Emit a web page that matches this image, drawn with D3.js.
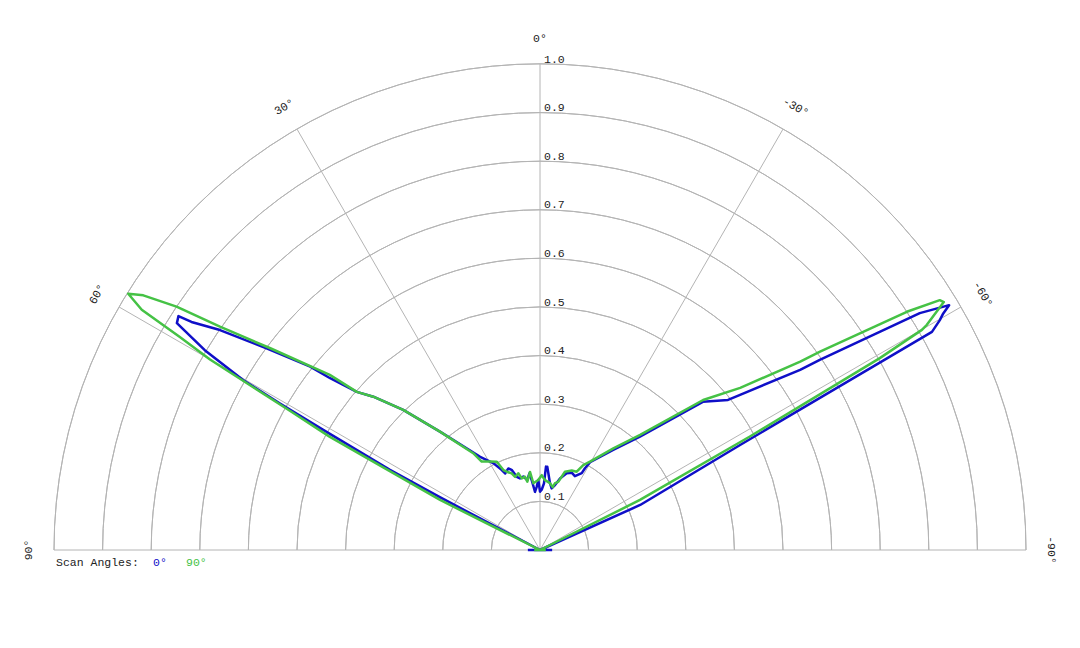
<!DOCTYPE html>
<html>
<head>
<meta charset="utf-8">
<script src="https://cdn.jsdelivr.net/npm/d3@7"></script>
<style>
  body { margin: 0; background: #fff; }
  text { font-family: "Liberation Mono", "DejaVu Sans Mono", monospace; font-size: 11.5px; fill: #222; }
</style>
</head>
<body>
<svg id="chart" width="1080" height="648"></svg>
<script>
// rings / spokes / labels
var ringTicks = [0.1, 0.2, 0.3, 0.4, 0.5, 0.6, 0.7, 0.8, 0.9, 1.0];
var spokeAngles = [-60, -30, 0, 30, 60];
var angleTicks = [90, 60, 30, 0, -30, -60, -90];
var seriesNames = ["0°", "90°"];

// scan angle 0° (blue): angle in degrees (positive = left), normalised level
var blueAngles = [-90, -88, -65.8, -62.3, -60.9, -60.1, -59.6, -59.1, -58.05, -55.8, -55.3, -52.2, -51.4, -47.7,
  -41.4, -36.2, -29.7, -28.8, -28.5, -25.3, -22.3, -19.2, -15.6, -13.0, -10.7, -8.5, -5.0, -4.1, -3.4, -1.6,
  0, 1.4, 3.0, 4.9, 6.8, 7.9, 10.3, 12.8, 15.6, 17.6, 19.5, 21.2, 24.5, 25.6, 28.3, 32.7, 40.2, 44.3, 47.4,
  49.2, 50.7, 51.4, 53.6, 55.5, 56.8, 57.1, 58.0, 59.2, 60.2, 60.6, 61.0, 61.9, 62.2, 88, 90];
var blueRadii = [0.025, 0.0, 0.226, 0.465, 0.923, 0.949, 0.962, 0.981, 0.921, 0.696, 0.651, 0.521, 0.495, 0.453,
  0.311, 0.255, 0.208, 0.192, 0.18, 0.168, 0.172, 0.167, 0.153, 0.137, 0.129, 0.139, 0.172, 0.172, 0.137, 0.124,
  0.12, 0.144, 0.13, 0.12, 0.145, 0.159, 0.146, 0.155, 0.153, 0.158, 0.175, 0.18, 0.173, 0.183, 0.203, 0.228, 0.319, 0.403, 0.466,
  0.498, 0.558, 0.605, 0.699, 0.799, 0.857, 0.886, 0.881, 0.803, 0.704, 0.614, 0.51, 0.35, 0.233, 0.0, 0.025];

// scan angle 90° (green)
var greenAngles = [-90, -88, -63.4, -61.6, -60.55, -60.04, -59.8, -58.45, -58.0, -57.0, -54.7, -54.1, -51.0, -47.4,
  -41.0, -35.8, -29.5, -27.0, -25.1, -21.8, -17.7, -15.0, -12.7, -11.4, -8.5, -4.1, -1.3, 1.4, 5.7, 7.3,
  10.5, 11.6, 14.3, 15.8, 18.8, 20.3, 23.0, 24.6, 26.1, 29.5, 33.4, 34.6, 40.2, 44.3, 47.4, 49.2, 50.2, 53.2,
  55.1, 56.2, 57.3, 58.1, 58.9, 59.4, 60.0, 60.4, 60.9, 61.7, 63.4, 88, 90];
var greenRadii = [0.012, 0.0, 0.23, 0.491, 0.803, 0.907, 0.921, 0.975, 0.97, 0.90, 0.706, 0.661, 0.53, 0.456,
  0.314, 0.258, 0.209, 0.196, 0.178, 0.176, 0.169, 0.145, 0.141, 0.132, 0.139, 0.144, 0.154, 0.144, 0.138, 0.162,
  0.143, 0.154, 0.152, 0.164, 0.159, 0.168, 0.175, 0.181, 0.202, 0.209, 0.218, 0.242, 0.319, 0.403, 0.466, 0.498, 0.563, 0.693,
  0.803, 0.90, 0.970, 0.998, 0.957, 0.861, 0.784, 0.686, 0.59, 0.491, 0.23, 0.0, 0.012];

var colors = ["#0f0fc8", "#45c245"];

var cx = 540, cy = 550;
var r = d3.scaleLinear().domain([0, 1]).range([0, 486]);
function toRad(d) { return -d * Math.PI / 180; }

var svg = d3.select("#chart");
var g = svg.append("g").attr("transform", "translate(" + cx + "," + cy + ")");

// grid: half rings
var ringArc = d3.arc()
  .innerRadius(function (d) { return r(d); })
  .outerRadius(function (d) { return r(d); })
  .startAngle(-Math.PI / 2)
  .endAngle(Math.PI / 2);

g.selectAll(".ring").data(ringTicks).enter().append("path")
  .attr("class", "ring")
  .attr("d", ringArc)
  .attr("fill", "none")
  .attr("stroke", "#b4b4b4")
  .attr("stroke-width", 1);

// baseline (±90°)
g.append("line")
  .attr("x1", -r(1)).attr("x2", r(1))
  .attr("y1", 0).attr("y2", 0)
  .attr("stroke", "#b4b4b4").attr("stroke-width", 1);

// spokes
g.selectAll(".spoke").data(spokeAngles).enter().append("line")
  .attr("class", "spoke")
  .attr("x1", 0).attr("y1", 0)
  .attr("x2", function (d) { return r(1) * Math.sin(toRad(d)); })
  .attr("y2", function (d) { return -r(1) * Math.cos(toRad(d)); })
  .attr("stroke", "#b4b4b4").attr("stroke-width", 1);

// radial tick labels
g.selectAll(".rlabel").data(ringTicks).enter().append("text")
  .attr("class", "rlabel")
  .attr("x", 4)
  .attr("y", function (d) { return -r(d) - 1.5; })
  .text(function (d) { return d.toFixed(1); });

// angle labels
var labelR = r(1) + 26;
g.selectAll(".alabel").data(angleTicks).enter().append("text")
  .attr("class", "alabel")
  .attr("text-anchor", "middle")
  .attr("dy", "0.35em")
  .attr("transform", function (d) {
    var a = toRad(d);
    return "translate(" + (labelR * Math.sin(a)) + "," + (-labelR * Math.cos(a)) + ") rotate(" + (-d) + ")";
  })
  .text(function (d) { return d + "°"; });

// series
var series = [
  { angles: blueAngles, radii: blueRadii },
  { angles: greenAngles, radii: greenRadii }
];

series.forEach(function (s, k) {
  var line = d3.lineRadial()
    .angle(function (i) { return toRad(s.angles[i]); })
    .radius(function (i) { return r(s.radii[i]); });
  g.append("path")
    .attr("d", line(d3.range(s.angles.length)))
    .attr("fill", "none")
    .attr("stroke", colors[k])
    .attr("stroke-width", 2.5)
    .attr("stroke-linejoin", "round");
});

// legend
var legend = svg.append("g").attr("transform", "translate(56,566)");
legend.append("text").attr("x", 0).attr("y", 0).text("Scan Angles:");
var legendX = [97, 130];
seriesNames.forEach(function (name, k) {
  legend.append("text")
    .attr("x", legendX[k]).attr("y", 0)
    .style("fill", colors[k])
    .text(name);
});
</script>
</body>
</html>
